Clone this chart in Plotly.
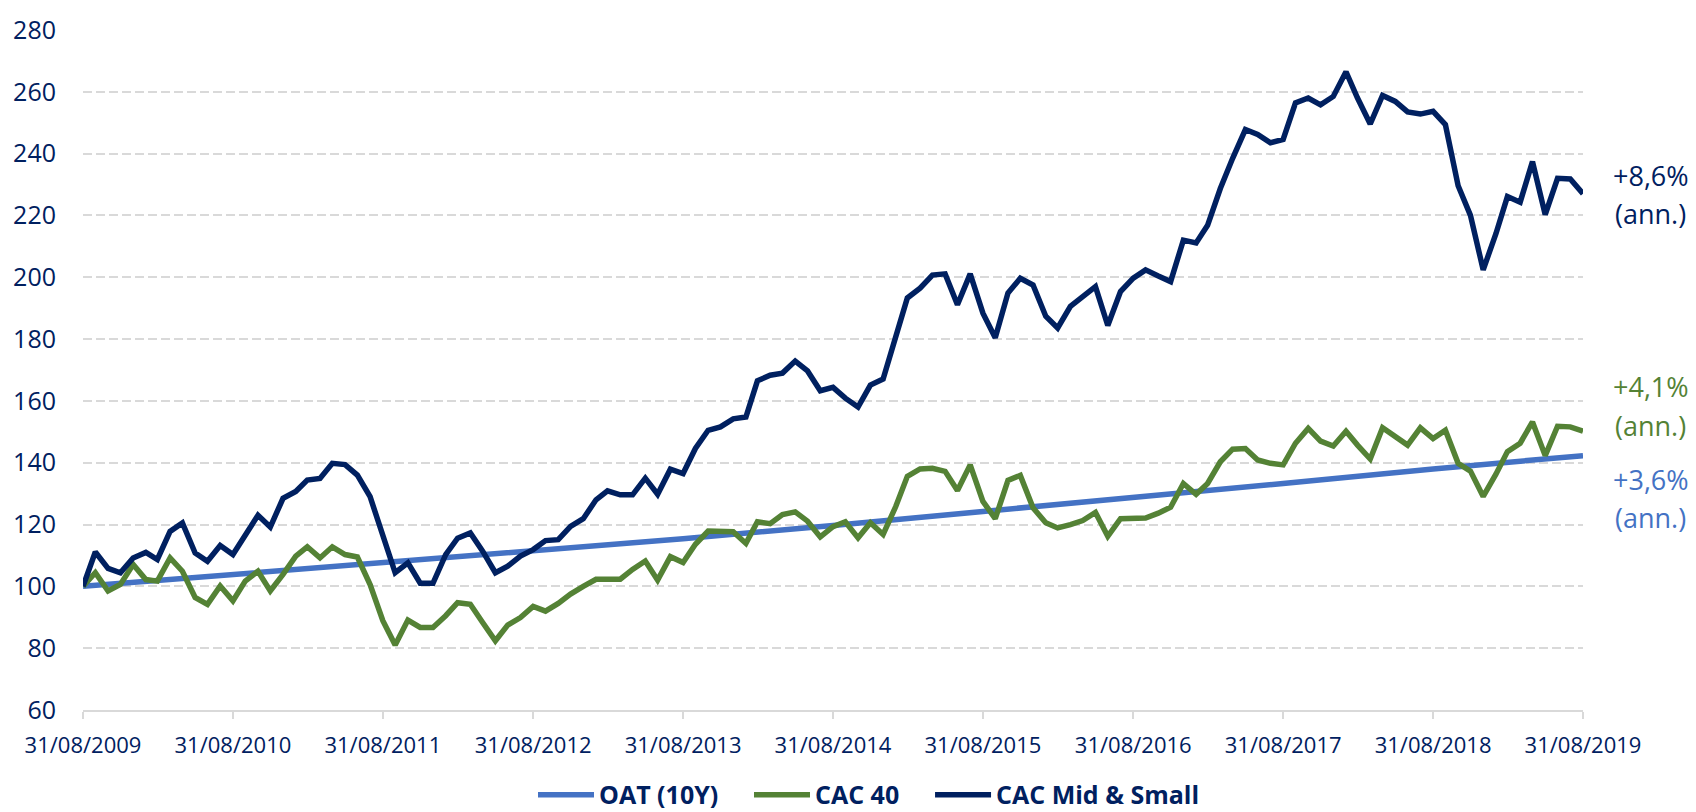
import pandas as pd
import plotly.graph_objects as go

# ---- data ----
try:
    dates = pd.date_range("2009-08-31", periods=121, freq="ME")
except Exception:
    dates = pd.date_range("2009-08-31", periods=121, freq="M")

cac_mid_small = [
    100, 111.1, 105.8, 104.4, 109.2, 111, 108.7, 117.8, 120.5, 110.8, 108.1, 113.2,
    110.3, 116.7, 123, 119.2, 128.5, 130.7, 134.4, 134.9, 139.8, 139.4, 136, 129,
    116.7, 104.4, 107.6, 101, 101, 110.3, 115.6, 117.3, 111.4, 104.4, 106.5, 109.8,
    111.9, 114.8, 115.1, 119.4, 121.9, 128, 130.9, 129.6, 129.6, 135, 129.8, 137.9,
    136.5, 144.6, 150.5, 151.6, 154.2, 154.8, 166.5, 168.3, 169, 172.9, 169.7, 163.3,
    164.4, 160.9, 158, 165.1, 167.1, 181, 193.3, 196.5, 200.7, 201.1, 191.1, 201.1,
    188.4, 180.4, 194.9, 199.7, 197.5, 187.4, 183.6, 190.6, 193.8, 197, 184.4, 195.4,
    199.7, 202.4, 200.4, 198.6, 212, 211.1, 216.8, 228.7, 238.5, 247.8, 246.2, 243.5,
    244.6, 256.4, 258, 255.8, 258.5, 266.5, 258, 249.6, 258.8, 256.9, 253.5, 252.8,
    253.7, 249.4, 229.6, 220, 202.4, 214.1, 226.1, 224.3, 237.4, 220.3, 232, 231.8,
    227,
]

cac_40 = [
    100, 104.4, 98.5, 100.6, 107.1, 102.2, 101.7, 109.2, 104.9, 96.4, 94.2, 100.1,
    95.3, 101.7, 104.9, 98.5, 103.9, 109.8, 112.8, 109.2, 112.8, 110.3, 109.5, 100.6,
    88.9, 81.0, 89.1, 86.7, 86.7, 90.5, 94.7, 94.2, 88.3, 82.4, 87.5, 89.9,
    93.5, 92, 94.5, 97.5, 100, 102.3, 102.3, 102.3, 105.5, 108.2, 102, 109.6,
    107.7, 113.6, 117.9, 117.9, 117.7, 113.9, 120.9, 120.3, 123.2, 124.1, 121.1, 116,
    119.3, 120.9, 115.7, 120.6, 116.8, 125.9, 135.6, 138, 138.2, 137.2, 131, 139.3,
    127.5, 121.9, 134.3, 135.9, 125.4, 120.6, 118.9, 120, 121.3, 123.9, 116.2, 121.9,
    121.8, 122.1, 123.7, 125.6, 133.3, 129.8, 133.3, 140.3, 144.4, 144.6, 140.9, 139.8,
    139.3, 146.3, 151.1, 147, 145.4, 150.2, 145.7, 141.2, 151.3, 148.3, 145.7, 151.3,
    147.8, 150.5, 139.8, 137.3, 129.1, 136.3, 143.6, 146.3, 153.2, 142.3, 151.8, 151.6,
    150.2,
]

oat_dates = dates[::12]
oat_10y = [100, 103.9, 107.6, 111.4, 115.4, 119.7, 124.1, 128.5, 133.3, 138, 142.3]

tick_dates = dates[::12]
tick_labels = ["31/08/2009", "31/08/2010", "31/08/2011", "31/08/2012", "31/08/2013",
               "31/08/2014", "31/08/2015", "31/08/2016", "31/08/2017", "31/08/2018",
               "31/08/2019"]

y_ticks = [60, 80, 100, 120, 140, 160, 180, 200, 220, 240, 260, 280]

series_names = ["OAT (10Y)", "CAC 40", "CAC Mid & Small"]
ann_labels = [("+8,6%", "(ann.)"), ("+4,1%", "(ann.)"), ("+3,6%", "(ann.)")]

# ---- styles ----
NAVY = "#002060"
GREEN = "#548235"
BLUE = "#4472C4"
GRID = "#d9d9d9"
FONT = "'Open Sans', Lato, sans-serif"

fig = go.Figure()
fig.add_trace(go.Scatter(x=oat_dates, y=oat_10y, mode="lines", name=series_names[0],
                         legend="legend",
                         line=dict(color=BLUE, width=5.5)))
fig.add_trace(go.Scatter(x=dates, y=cac_40, mode="lines", name=series_names[1],
                         legend="legend2",
                         line=dict(color=GREEN, width=5.5)))
fig.add_trace(go.Scatter(x=dates, y=cac_mid_small, mode="lines", name=series_names[2],
                         legend="legend3",
                         line=dict(color=NAVY, width=5.5)))

# right-side annotations
ann_colors = [NAVY, GREEN, BLUE]
ann_y = [(0.7855, 0.730), (0.476, 0.419), (0.3388, 0.2833)]
for (t1, t2), c, (ya, yb) in zip(ann_labels, ann_colors, ann_y):
    for t, yy in ((t1, ya), (t2, yb)):
        fig.add_annotation(text=t, xref="paper", yref="paper", x=1.045, y=yy,
                           xanchor="center", yanchor="middle", showarrow=False,
                           font=dict(family=FONT, size=27, color=c))


def legend_at(xpos):
    return dict(orientation="h", x=xpos, xanchor="left",
                yref="container", y=0.021, yanchor="middle",
                font=dict(family=FONT, size=25, color=NAVY, weight="bold"),
                itemwidth=56, bgcolor="rgba(0,0,0,0)")


fig.update_layout(
    width=1696, height=812,
    margin=dict(l=83, r=113, t=25, b=102),
    paper_bgcolor="white", plot_bgcolor="white",
    font=dict(family=FONT, color=NAVY),
    showlegend=True,
    legend=legend_at(0.300),
    legend2=legend_at(0.444),
    legend3=legend_at(0.5647),
    xaxis=dict(
        range=[dates[0], dates[-1]],
        tickvals=tick_dates, ticktext=tick_labels,
        showgrid=False, zeroline=False,
        showline=True, linecolor=GRID, linewidth=2,
        ticks="outside", ticklen=7, tickwidth=2, tickcolor=GRID,
        ticklabelstandoff=8,
        tickfont=dict(family=FONT, size=22, color=NAVY),
    ),
    yaxis=dict(
        range=[60, 280], tickvals=y_ticks,
        showgrid=True, gridcolor=GRID, gridwidth=2, griddash="9px,4px",
        zeroline=False, showline=False, ticks="",
        ticklabelstandoff=26,
        tickfont=dict(family=FONT, size=25, color=NAVY),
    ),
)

fig.write_html("out.html", config={"displayModeBar": False},
               post_script="document.body.style.margin='0';document.body.style.overflow='hidden';")
